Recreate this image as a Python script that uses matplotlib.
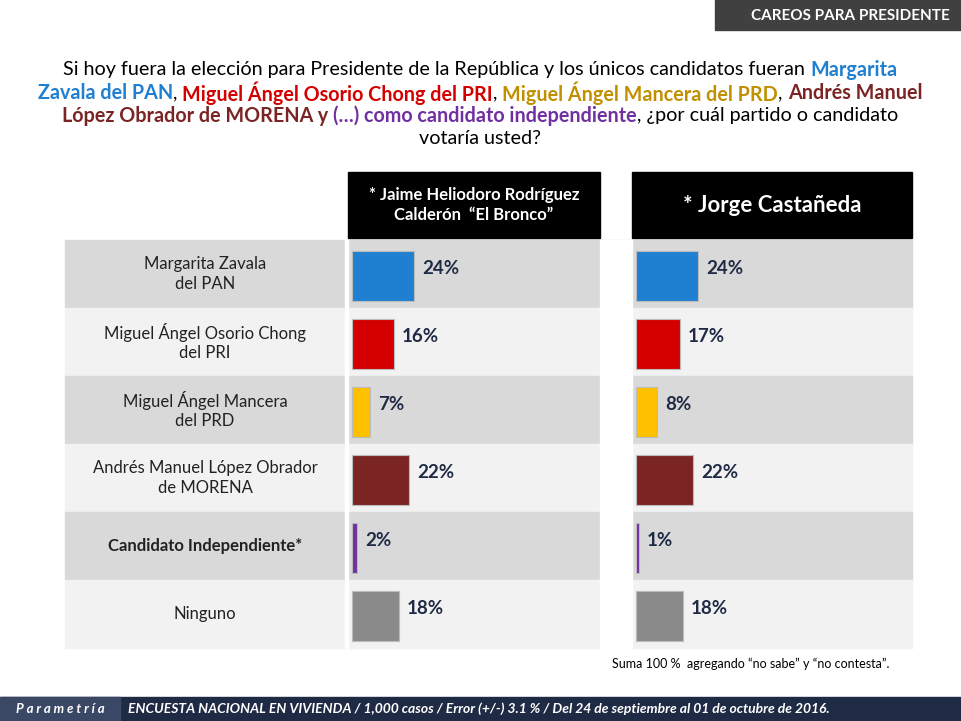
import matplotlib
matplotlib.use("Agg")
import matplotlib.pyplot as plt
from matplotlib.patches import Rectangle

categories = ["Margarita Zavala\ndel PAN", "Miguel Ángel Osorio Chong\ndel PRI", "Miguel Ángel Mancera\ndel PRD",
              "Andrés Manuel López Obrador\nde MORENA", "Candidato Independiente*", "Ninguno"]
bronco = [24, 16, 7, 22, 2, 18]
castaneda = [24, 17, 8, 22, 1, 18]
colors = ["#1f7fd1", "#d40000", "#ffc000", "#7b2424", "#7030a0", "#8a8a8a"]
headers = ["* Jaime Heliodoro Rodríguez\nCalderón  “El Bronco”", "* Jorge Castañeda"]

plt.rcParams['font.family'] = ['Lato', 'DejaVu Sans']
fig = plt.figure(figsize=(9.61, 7.21), dpi=100)
ax = fig.add_axes([0, 0, 1, 1])
ax.set_xlim(0, 961); ax.set_ylim(721, 0); ax.axis('off')

# banner
ax.add_patch(Rectangle((715, 0), 246, 30, color="#404040"))
ax.text(950, 16, "CAREOS PARA PRESIDENTE", color="white", fontsize=11, fontweight='bold', ha='right', va='center')

# title
BLUE, RED, GOLD, MAR, PUR = "#1f7fd1", "#d40000", "#c09000", "#7b2424", "#7030a0"
lines = [
    [("Si hoy fuera la elección para Presidente de la República y los únicos candidatos fueran ", "k", 'normal'), ("Margarita", BLUE, 'bold')],
    [("Zavala del PAN", BLUE, 'bold'), (", ", "k", 'normal'), ("Miguel Ángel Osorio Chong del PRI", RED, 'bold'), (", ", "k", 'normal'),
     ("Miguel Ángel Mancera del PRD", GOLD, 'bold'), (", ", "k", 'normal'), ("Andrés Manuel", MAR, 'bold')],
    [("López Obrador de MORENA", MAR, 'bold'), (" y ", MAR, 'bold'), ("(…) como candidato independiente", PUR, 'bold'),
     (", ¿por cuál partido o candidato", "k", 'normal')],
    [("votaría usted?", "k", 'normal')],
]
fig.canvas.draw()
r = fig.canvas.get_renderer()
for i, segs in enumerate(lines):
    y = 70 + i * 23
    ts = []
    for s, c, w in segs:
        t = ax.text(0, y, s, color=c, fontweight=w, fontsize=14.2, va='center', ha='left')
        ts.append(t)
    widths = [t.get_window_extent(r).width for t in ts]
    x = 480 - sum(widths) / 2
    for t, wd in zip(ts, widths):
        t.set_x(x); x += wd

# headers
panels = [(348, 600), (632, 912)]
for (x0, x1), h, fs in zip(panels, headers, [12, 16]):
    ax.add_patch(Rectangle((x0, 172), x1 - x0, 66, color="black"))
    ax.text((x0 + x1) / 2, 205, h, color="white", fontsize=fs, fontweight='bold', ha='center', va='center', linespacing=1.3)

# rows
top, rh = 240, 68
for i, cat in enumerate(categories):
    y0 = top + i * rh
    bg = "#d9d9d9" if i % 2 == 0 else "#f2f2f2"
    ax.add_patch(Rectangle((65, y0), 847, rh, color=bg, zorder=0))
    ax.text(205, y0 + rh / 2, cat, ha='center', va='center', fontsize=12,
            fontweight='bold' if i == 4 else 'normal', color="#222222", linespacing=1.3)
ax.add_patch(Rectangle((345, top), 3, 6 * rh, color="white", zorder=1))
ax.add_patch(Rectangle((600, top), 32, 6 * rh, color="white", zorder=1))

scale = 2.6
ys = [top + i * rh + 36 for i in range(6)]
for (x0, x1), vals in zip(panels, [bronco, castaneda]):
    ax.barh(ys, [v * scale for v in vals], left=x0 + 4, height=50, color=colors, zorder=2,
            edgecolor="#bbbbbb", linewidth=0.8)
    for y, v in zip(ys, vals):
        ax.text(x0 + 4 + v * scale + 8, y - 8, f"{v}%", fontsize=13.5, fontweight='bold', color="#1f2a44", va='center', zorder=3)

ax.text(612, 664, "Suma 100 %  agregando “no sabe” y “no contesta”.", fontsize=9, va='center')

# footer
ax.add_patch(Rectangle((0, 697), 961, 24, color="#1f2a44"))
ax.add_patch(Rectangle((0, 697), 120, 24, color="#3a4866"))
ax.text(60, 709, "P a r a m e t r í a", color="white", fontsize=9.5, fontstyle='italic', fontweight='bold', ha='center', va='center')
ax.text(128, 709, "ENCUESTA NACIONAL EN VIVIENDA / 1,000 casos / Error (+/-) 3.1 % / Del 24 de septiembre al 01 de octubre de 2016.",
        color="white", fontsize=10, fontstyle='italic', fontweight='bold', va='center')

fig.savefig("out.png", dpi=100)
